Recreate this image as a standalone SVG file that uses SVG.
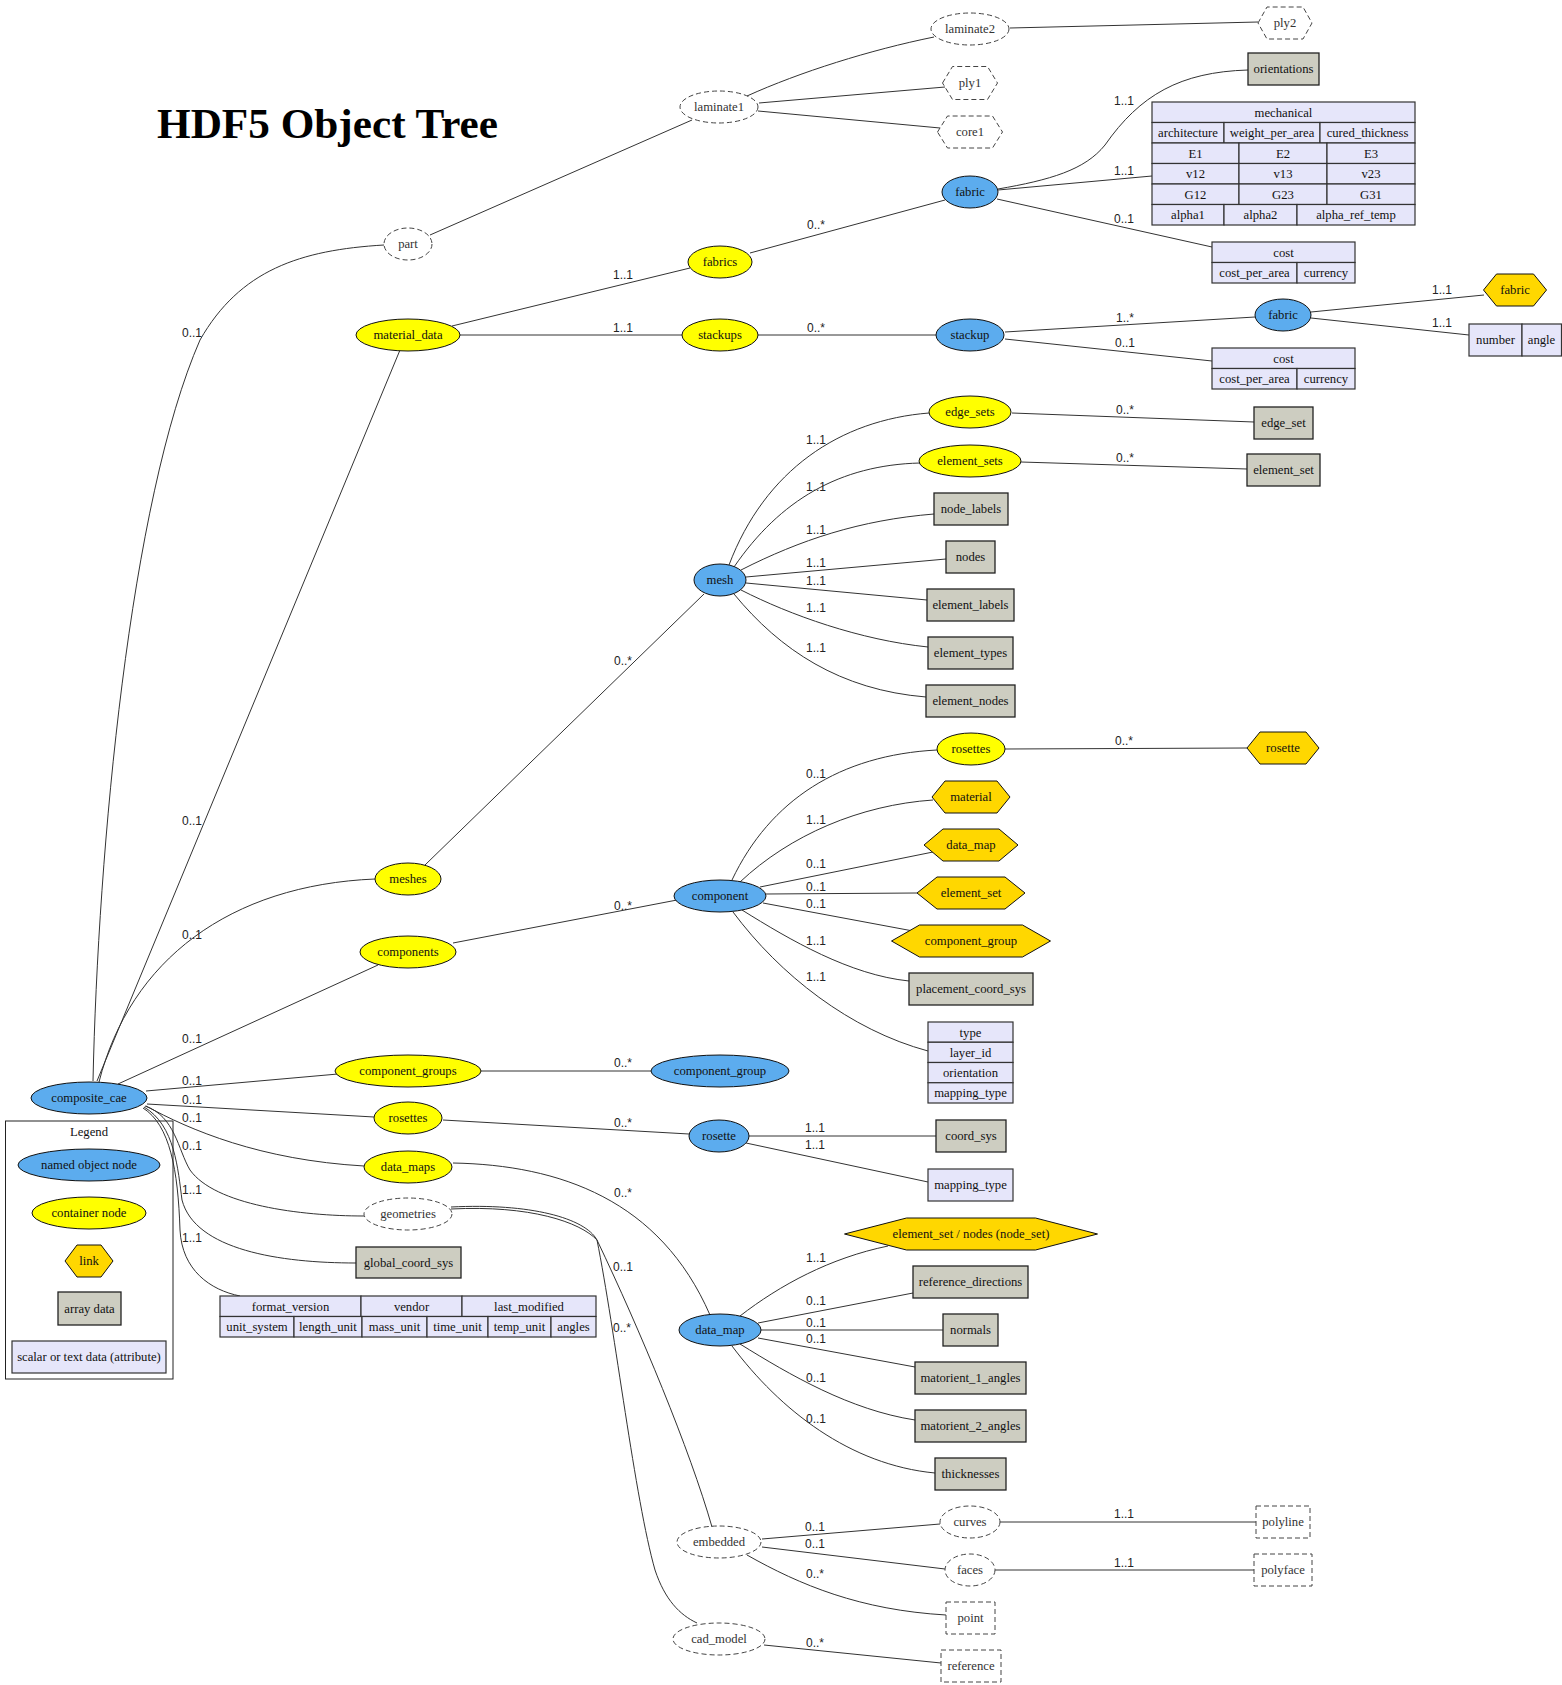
<svg xmlns="http://www.w3.org/2000/svg" width="1562" height="1685" viewBox="0 0 1562 1685">
<style>
  .obj { fill: #5CACEE; stroke: #111; stroke-width: 1; }
  .cont { fill: #FFFF00; stroke: #111; stroke-width: 1; }
  .link { fill: #FFD700; stroke: #111; stroke-width: 1; }
  .arr { fill: #CDCDC1; stroke: #222; stroke-width: 1.3; }
  .attr { fill: #E6E6FA; stroke: #333; stroke-width: 1.2; }
  .dash { fill: none; stroke: #444; stroke-width: 1; stroke-dasharray: 5,3; }
  .frame { fill: none; stroke: #222; stroke-width: 1; }
  text { font-family: "Liberation Serif", "Times New Roman", serif; font-size: 12.7px; text-anchor: middle; fill: #111; }
  text.g { fill: #333; }
  text.e { font-family: "Liberation Sans", Arial, sans-serif; font-size: 12px; fill: #222; }
  text.title { font-family: "Liberation Serif", serif; font-size: 43px; font-weight: bold; text-anchor: start; fill: #000; }
  #edges path { fill: none; stroke: #333; stroke-width: 1; }
</style>

<text class="title" x="157" y="138" textLength="341" lengthAdjust="spacingAndGlyphs">HDF5 Object Tree</text>

<!-- connectors -->
<g id="edges">
  <!-- composite_cae -->
  <path d="M93,1081 C98,850 130,500 200,340 C240,270 300,250 384,245"/>
  <path d="M97,1081 L400,350"/>
  <path d="M99,1082 C130,960 230,885 375,879"/>
  <path d="M118,1084 L378,965"/>
  <path d="M146,1091 L338,1074"/>
  <path d="M147,1104 L374,1117"/>
  <path d="M146,1106 C190,1130 260,1160 364,1166"/>
  <path d="M145,1106 C175,1116 178,1150 190,1170 C215,1205 300,1216 364,1216"/>
  <path d="M144,1107 C175,1125 178,1170 182,1200 C195,1250 280,1263 356,1263"/>
  <path d="M143,1108 C170,1125 178,1170 180,1230 C182,1270 210,1290 240,1296"/>
  <!-- part / laminates -->
  <path d="M430,235 L692,120"/>
  <path d="M747,96 C800,72 870,50 934,37"/>
  <path d="M759,103 L945,87"/>
  <path d="M758,111 L940,128"/>
  <path d="M1010,28 L1258,22"/>
  <!-- material_data -->
  <path d="M452,326 L690,268"/>
  <path d="M460,335 L682,335"/>
  <path d="M750,253 L945,200"/>
  <path d="M758,335 L936,335"/>
  <path d="M998,189 C1050,180 1085,170 1105,145 C1140,95 1180,72 1248,70"/>
  <path d="M998,190 L1152,176"/>
  <path d="M997,199 L1212,247"/>
  <path d="M1005,332 L1255,317"/>
  <path d="M1005,339 L1212,361"/>
  <path d="M1311,312 L1484,295"/>
  <path d="M1311,318 L1469,335"/>
  <!-- meshes -->
  <path d="M425,865 L704,594"/>
  <path d="M729,565 C765,470 840,420 929,413"/>
  <path d="M734,567 C780,500 840,465 920,463"/>
  <path d="M741,570 C800,540 860,520 934,514"/>
  <path d="M746,577 L946,559"/>
  <path d="M746,583 L927,600"/>
  <path d="M741,590 C790,615 860,640 928,647"/>
  <path d="M734,594 C780,650 840,690 926,697"/>
  <path d="M1012,413 L1254,422"/>
  <path d="M1021,462 L1247,469"/>
  <!-- components -->
  <path d="M453,943 L677,900"/>
  <path d="M732,880 C770,800 840,755 937,750"/>
  <path d="M740,882 C790,835 860,805 933,800"/>
  <path d="M760,887 L933,852"/>
  <path d="M766,894 L917,893"/>
  <path d="M763,903 L913,931"/>
  <path d="M742,910 C790,940 850,975 909,981"/>
  <path d="M733,912 C780,975 850,1030 928,1051"/>
  <path d="M1005,749 L1247,748"/>
  <!-- component_groups / rosettes -->
  <path d="M481,1071 L651,1071"/>
  <path d="M443,1120 L689,1134"/>
  <path d="M749,1136 L936,1136"/>
  <path d="M746,1143 L928,1182"/>
  <!-- data_maps -->
  <path d="M453,1163 C560,1165 660,1200 710,1315"/>
  <path d="M740,1316 C780,1285 830,1258 888,1246"/>
  <path d="M758,1323 L913,1293"/>
  <path d="M761,1330 L943,1330"/>
  <path d="M758,1338 L915,1367"/>
  <path d="M740,1344 C790,1375 850,1410 915,1420"/>
  <path d="M732,1346 C780,1410 850,1465 935,1473"/>
  <!-- geometries -->
  <path d="M451,1209 C530,1205 580,1222 597,1240 C640,1330 690,1450 712,1527"/>
  <path d="M451,1207 C530,1203 585,1218 597,1240 C615,1330 635,1500 655,1570 C665,1600 680,1615 697,1623"/>
  <path d="M762,1539 L940,1524"/>
  <path d="M762,1547 L945,1569"/>
  <path d="M747,1555 C800,1585 860,1610 946,1615"/>
  <path d="M764,1645 L941,1663"/>
  <path d="M1000,1522 L1256,1522"/>
  <path d="M995,1570 L1254,1570"/>

  <!-- multiplicities -->
  <text class="e" x="192" y="337">0..1</text>
  <text class="e" x="192" y="825">0..1</text>
  <text class="e" x="192" y="939">0..1</text>
  <text class="e" x="192" y="1043">0..1</text>
  <text class="e" x="192" y="1085">0..1</text>
  <text class="e" x="192" y="1104">0..1</text>
  <text class="e" x="192" y="1122">0..1</text>
  <text class="e" x="192" y="1150">0..1</text>
  <text class="e" x="192" y="1194">1..1</text>
  <text class="e" x="192" y="1242">1..1</text>

  <text class="e" x="623" y="279">1..1</text>
  <text class="e" x="623" y="332">1..1</text>
  <text class="e" x="816" y="229">0..*</text>
  <text class="e" x="816" y="332">0..*</text>
  <text class="e" x="1124" y="105">1..1</text>
  <text class="e" x="1124" y="175">1..1</text>
  <text class="e" x="1124" y="223">0..1</text>
  <text class="e" x="1125" y="322">1..*</text>
  <text class="e" x="1125" y="347">0..1</text>
  <text class="e" x="1442" y="294">1..1</text>
  <text class="e" x="1442" y="327">1..1</text>

  <text class="e" x="623" y="665">0..*</text>
  <text class="e" x="816" y="444">1..1</text>
  <text class="e" x="816" y="491">1..1</text>
  <text class="e" x="816" y="534">1..1</text>
  <text class="e" x="816" y="567">1..1</text>
  <text class="e" x="816" y="585">1..1</text>
  <text class="e" x="816" y="612">1..1</text>
  <text class="e" x="816" y="652">1..1</text>
  <text class="e" x="1125" y="414">0..*</text>
  <text class="e" x="1125" y="462">0..*</text>

  <text class="e" x="623" y="910">0..*</text>
  <text class="e" x="816" y="778">0..1</text>
  <text class="e" x="816" y="824">1..1</text>
  <text class="e" x="816" y="868">0..1</text>
  <text class="e" x="816" y="891">0..1</text>
  <text class="e" x="816" y="908">0..1</text>
  <text class="e" x="816" y="945">1..1</text>
  <text class="e" x="816" y="981">1..1</text>
  <text class="e" x="1124" y="745">0..*</text>

  <text class="e" x="623" y="1067">0..*</text>
  <text class="e" x="623" y="1127">0..*</text>
  <text class="e" x="815" y="1132">1..1</text>
  <text class="e" x="815" y="1149">1..1</text>
  <text class="e" x="623" y="1197">0..*</text>

  <text class="e" x="816" y="1262">1..1</text>
  <text class="e" x="816" y="1305">0..1</text>
  <text class="e" x="816" y="1327">0..1</text>
  <text class="e" x="816" y="1343">0..1</text>
  <text class="e" x="816" y="1382">0..1</text>
  <text class="e" x="816" y="1423">0..1</text>

  <text class="e" x="623" y="1271">0..1</text>
  <text class="e" x="622" y="1332">0..*</text>
  <text class="e" x="815" y="1531">0..1</text>
  <text class="e" x="815" y="1548">0..1</text>
  <text class="e" x="815" y="1578">0..*</text>
  <text class="e" x="815" y="1647">0..*</text>
  <text class="e" x="1124" y="1518">1..1</text>
  <text class="e" x="1124" y="1567">1..1</text>
</g>

<!-- root -->
<g id="composite_cae"><ellipse class="obj" cx="89" cy="1098" rx="58" ry="16"/><text x="89" y="1102">composite_cae</text></g>

<!-- part branch -->
<g id="part"><ellipse class="dash" cx="408" cy="244" rx="24" ry="16"/><text class="g" x="408" y="248">part</text></g>
<g id="laminate1"><ellipse class="dash" cx="719" cy="107" rx="39" ry="16"/><text class="g" x="719" y="111">laminate1</text></g>
<g id="laminate2"><ellipse class="dash" cx="970" cy="29" rx="39" ry="16"/><text class="g" x="970" y="33">laminate2</text></g>
<g id="ply1"><polygon class="dash" points="942.5,83 952.5,66.5 987.5,66.5 997.5,83 987.5,99.5 952.5,99.5"/><text class="g" x="970" y="87">ply1</text></g>
<g id="core1"><polygon class="dash" points="937.5,132 947.5,116 992.5,116 1002.5,132 992.5,148 947.5,148"/><text class="g" x="970" y="136">core1</text></g>
<g id="ply2"><polygon class="dash" points="1258,23 1267,7 1303,7 1312,23 1303,39 1267,39"/><text class="g" x="1285" y="27">ply2</text></g>

<!-- material data branch -->
<g id="material_data"><ellipse class="cont" cx="408" cy="335" rx="52" ry="16"/><text x="408" y="339">material_data</text></g>
<g id="fabrics"><ellipse class="cont" cx="720" cy="262" rx="32" ry="16"/><text x="720" y="266">fabrics</text></g>
<g id="stackups"><ellipse class="cont" cx="720" cy="335" rx="38" ry="16"/><text x="720" y="339">stackups</text></g>
<g id="fabric"><ellipse class="obj" cx="970" cy="192" rx="28" ry="16"/><text x="970" y="196">fabric</text></g>
<g id="stackup"><ellipse class="obj" cx="970" cy="335" rx="34" ry="16"/><text x="970" y="339">stackup</text></g>
<g id="orientations"><rect class="arr" x="1248" y="53" width="71" height="32"/><text x="1283.5" y="73">orientations</text></g>
<g id="mechanical">
  <rect class="attr" x="1152" y="102" width="263" height="20.5"/>
  <rect class="attr" x="1152" y="122.5" width="72" height="20.5"/>
  <rect class="attr" x="1224" y="122.5" width="96" height="20.5"/>
  <rect class="attr" x="1320" y="122.5" width="95" height="20.5"/>
  <rect class="attr" x="1152" y="143" width="87" height="20.5"/>
  <rect class="attr" x="1239" y="143" width="88" height="20.5"/>
  <rect class="attr" x="1327" y="143" width="88" height="20.5"/>
  <rect class="attr" x="1152" y="163.5" width="87" height="20.5"/>
  <rect class="attr" x="1239" y="163.5" width="88" height="20.5"/>
  <rect class="attr" x="1327" y="163.5" width="88" height="20.5"/>
  <rect class="attr" x="1152" y="184" width="87" height="20.5"/>
  <rect class="attr" x="1239" y="184" width="88" height="20.5"/>
  <rect class="attr" x="1327" y="184" width="88" height="20.5"/>
  <rect class="attr" x="1152" y="204.5" width="72" height="20.5"/>
  <rect class="attr" x="1224" y="204.5" width="73" height="20.5"/>
  <rect class="attr" x="1297" y="204.5" width="118" height="20.5"/>
  <text x="1283.5" y="116.5">mechanical</text>
  <text x="1188" y="137">architecture</text>
  <text x="1272" y="137">weight_per_area</text>
  <text x="1367.5" y="137">cured_thickness</text>
  <text x="1195.5" y="157.5">E1</text>
  <text x="1283" y="157.5">E2</text>
  <text x="1371" y="157.5">E3</text>
  <text x="1195.5" y="178">v12</text>
  <text x="1283" y="178">v13</text>
  <text x="1371" y="178">v23</text>
  <text x="1195.5" y="198.5">G12</text>
  <text x="1283" y="198.5">G23</text>
  <text x="1371" y="198.5">G31</text>
  <text x="1188" y="219">alpha1</text>
  <text x="1260.5" y="219">alpha2</text>
  <text x="1356" y="219">alpha_ref_temp</text>
</g>
<g id="fabric_cost">
  <rect class="attr" x="1212" y="242" width="143" height="20.5"/>
  <rect class="attr" x="1212" y="262.5" width="85" height="20.5"/>
  <rect class="attr" x="1297" y="262.5" width="58" height="20.5"/>
  <text x="1283.5" y="256.5">cost</text>
  <text x="1254.5" y="277">cost_per_area</text>
  <text x="1326" y="277">currency</text>
</g>
<g id="stackup_fabric"><ellipse class="obj" cx="1283" cy="315" rx="28" ry="16"/><text x="1283" y="319">fabric</text></g>
<g id="stackup_cost">
  <rect class="attr" x="1212" y="348" width="143" height="20.5"/>
  <rect class="attr" x="1212" y="368.5" width="85" height="20.5"/>
  <rect class="attr" x="1297" y="368.5" width="58" height="20.5"/>
  <text x="1283.5" y="362.5">cost</text>
  <text x="1254.5" y="383">cost_per_area</text>
  <text x="1326" y="383">currency</text>
</g>
<g id="fabric_link"><polygon class="link" points="1483.5,290 1496.5,274 1533.5,274 1546.5,290 1533.5,306 1496.5,306"/><text x="1515" y="294">fabric</text></g>
<g id="ply_layout">
  <rect class="attr" x="1469" y="324" width="53" height="32"/>
  <rect class="attr" x="1522" y="324" width="39.5" height="32"/>
  <text x="1495.5" y="344">number</text>
  <text x="1541.5" y="344">angle</text>
</g>

<!-- meshes branch -->
<g id="meshes"><ellipse class="cont" cx="408" cy="879" rx="33" ry="16"/><text x="408" y="883">meshes</text></g>
<g id="mesh"><ellipse class="obj" cx="720" cy="580" rx="26" ry="16"/><text x="720" y="584">mesh</text></g>
<g id="edge_sets"><ellipse class="cont" cx="970" cy="412" rx="41" ry="16"/><text x="970" y="416">edge_sets</text></g>
<g id="element_sets"><ellipse class="cont" cx="970" cy="461" rx="51" ry="16"/><text x="970" y="465">element_sets</text></g>
<g id="edge_set"><rect class="arr" x="1254" y="407" width="59" height="32"/><text x="1283.5" y="427">edge_set</text></g>
<g id="element_set_arr"><rect class="arr" x="1247" y="454" width="73" height="32"/><text x="1283.5" y="474">element_set</text></g>
<g id="node_labels"><rect class="arr" x="934" y="493" width="74" height="32"/><text x="971" y="513">node_labels</text></g>
<g id="nodes"><rect class="arr" x="946" y="541" width="49" height="32"/><text x="970.5" y="561">nodes</text></g>
<g id="element_labels"><rect class="arr" x="927" y="589" width="87" height="32"/><text x="970.5" y="609">element_labels</text></g>
<g id="element_types"><rect class="arr" x="928" y="637" width="85" height="32"/><text x="970.5" y="657">element_types</text></g>
<g id="element_nodes"><rect class="arr" x="926" y="685" width="89" height="32"/><text x="970.5" y="705">element_nodes</text></g>

<!-- components branch -->
<g id="components"><ellipse class="cont" cx="408" cy="952" rx="48" ry="16"/><text x="408" y="956">components</text></g>
<g id="component"><ellipse class="obj" cx="720" cy="896" rx="46" ry="16"/><text x="720" y="900">component</text></g>
<g id="component_rosettes"><ellipse class="cont" cx="971" cy="749" rx="34" ry="16"/><text x="971" y="753">rosettes</text></g>
<g id="rosette_link"><polygon class="link" points="1247,748 1260,732 1306,732 1319,748 1306,764 1260,764"/><text x="1283" y="752">rosette</text></g>
<g id="material_link"><polygon class="link" points="932,797 945,781 997,781 1010,797 997,813 945,813"/><text x="971" y="801">material</text></g>
<g id="data_map_link"><polygon class="link" points="924,845 943,829 999,829 1018,845 999,861 943,861"/><text x="971" y="849">data_map</text></g>
<g id="element_set_link"><polygon class="link" points="917,893 937,877 1005,877 1025,893 1005,909 937,909"/><text x="971" y="897">element_set</text></g>
<g id="component_group_link"><polygon class="link" points="891.5,941 919.5,925 1022.5,925 1050.5,941 1022.5,957 919.5,957"/><text x="971" y="945">component_group</text></g>
<g id="placement_coord_sys"><rect class="arr" x="909" y="973" width="124" height="32"/><text x="971" y="993">placement_coord_sys</text></g>
<g id="component_attrs">
  <rect class="attr" x="928" y="1022" width="85" height="20.25"/>
  <rect class="attr" x="928" y="1042.25" width="85" height="20.25"/>
  <rect class="attr" x="928" y="1062.5" width="85" height="20.25"/>
  <rect class="attr" x="928" y="1082.75" width="85" height="20.25"/>
  <text x="970.5" y="1036.5">type</text>
  <text x="970.5" y="1056.5">layer_id</text>
  <text x="970.5" y="1077">orientation</text>
  <text x="970.5" y="1097">mapping_type</text>
</g>

<!-- component groups, rosettes -->
<g id="component_groups"><ellipse class="cont" cx="408" cy="1071" rx="73" ry="16"/><text x="408" y="1075">component_groups</text></g>
<g id="component_group"><ellipse class="obj" cx="720" cy="1071" rx="69" ry="16"/><text x="720" y="1075">component_group</text></g>
<g id="rosettes"><ellipse class="cont" cx="408" cy="1118" rx="34" ry="16"/><text x="408" y="1122">rosettes</text></g>
<g id="rosette"><ellipse class="obj" cx="719" cy="1136" rx="30" ry="16"/><text x="719" y="1140">rosette</text></g>
<g id="coord_sys"><rect class="arr" x="936" y="1120" width="70" height="32"/><text x="971" y="1140">coord_sys</text></g>
<g id="rosette_mapping_type"><rect class="attr" x="928" y="1169" width="85" height="32"/><text x="970.5" y="1189">mapping_type</text></g>

<!-- data maps -->
<g id="data_maps"><ellipse class="cont" cx="408" cy="1167" rx="44" ry="16"/><text x="408" y="1171">data_maps</text></g>
<g id="data_map"><ellipse class="obj" cx="720" cy="1330" rx="41" ry="16"/><text x="720" y="1334">data_map</text></g>
<g id="node_set_link"><polygon class="link" points="844.5,1234 906.5,1218 1035.5,1218 1097.5,1234 1035.5,1250 906.5,1250"/><text x="971" y="1238">element_set / nodes (node_set)</text></g>
<g id="reference_directions"><rect class="arr" x="913" y="1266" width="115" height="32"/><text x="970.5" y="1286">reference_directions</text></g>
<g id="normals"><rect class="arr" x="943" y="1314" width="55" height="32"/><text x="970.5" y="1334">normals</text></g>
<g id="matorient_1_angles"><rect class="arr" x="915" y="1362" width="111" height="32"/><text x="970.5" y="1382">matorient_1_angles</text></g>
<g id="matorient_2_angles"><rect class="arr" x="915" y="1410" width="111" height="32"/><text x="970.5" y="1430">matorient_2_angles</text></g>
<g id="thicknesses"><rect class="arr" x="935" y="1458" width="71" height="32"/><text x="970.5" y="1478">thicknesses</text></g>

<!-- geometries -->
<g id="geometries"><ellipse class="dash" cx="408" cy="1214" rx="44" ry="16"/><text class="g" x="408" y="1218">geometries</text></g>
<g id="embedded"><ellipse class="dash" cx="719" cy="1542" rx="42" ry="16"/><text class="g" x="719" y="1546">embedded</text></g>
<g id="cad_model"><ellipse class="dash" cx="719" cy="1639" rx="46" ry="16"/><text class="g" x="719" y="1643">cad_model</text></g>
<g id="curves"><ellipse class="dash" cx="970" cy="1522" rx="30" ry="16"/><text class="g" x="970" y="1526">curves</text></g>
<g id="faces"><ellipse class="dash" cx="970" cy="1570" rx="25" ry="16"/><text class="g" x="970" y="1574">faces</text></g>
<g id="point"><rect class="dash" x="946" y="1602" width="49" height="32"/><text class="g" x="970.5" y="1622">point</text></g>
<g id="reference"><rect class="dash" x="941" y="1650" width="60" height="32"/><text class="g" x="971" y="1670">reference</text></g>
<g id="polyline"><rect class="dash" x="1256" y="1506" width="54" height="32"/><text class="g" x="1283" y="1526">polyline</text></g>
<g id="polyface"><rect class="dash" x="1254" y="1554" width="58" height="32"/><text class="g" x="1283" y="1574">polyface</text></g>

<!-- root attributes and arrays -->
<g id="global_coord_sys"><rect class="arr" x="356" y="1247" width="105" height="31"/><text x="408.5" y="1267">global_coord_sys</text></g>
<g id="root_attrs">
  <rect class="attr" x="220" y="1296" width="141" height="20.5"/>
  <rect class="attr" x="361" y="1296" width="101" height="20.5"/>
  <rect class="attr" x="462" y="1296" width="134" height="20.5"/>
  <rect class="attr" x="220" y="1316.5" width="74" height="20.5"/>
  <rect class="attr" x="294" y="1316.5" width="68" height="20.5"/>
  <rect class="attr" x="362" y="1316.5" width="65" height="20.5"/>
  <rect class="attr" x="427" y="1316.5" width="61" height="20.5"/>
  <rect class="attr" x="488" y="1316.5" width="63" height="20.5"/>
  <rect class="attr" x="551" y="1316.5" width="45" height="20.5"/>
  <text x="290.5" y="1310.5">format_version</text>
  <text x="411.5" y="1310.5">vendor</text>
  <text x="529" y="1310.5">last_modified</text>
  <text x="257" y="1331">unit_system</text>
  <text x="328" y="1331">length_unit</text>
  <text x="394.5" y="1331">mass_unit</text>
  <text x="457.5" y="1331">time_unit</text>
  <text x="519.5" y="1331">temp_unit</text>
  <text x="573.5" y="1331">angles</text>
</g>

<!-- legend -->
<g id="legend">
  <rect class="frame" x="5.5" y="1121" width="167.5" height="258"/>
  <text x="89" y="1136">Legend</text>
  <ellipse class="obj" cx="89" cy="1165" rx="71" ry="16"/><text x="89" y="1169">named object node</text>
  <ellipse class="cont" cx="89" cy="1213" rx="57" ry="16"/><text x="89" y="1217">container node</text>
  <polygon class="link" points="65,1261 77,1245 101,1245 113,1261 101,1277 77,1277"/><text x="89" y="1265">link</text>
  <rect class="arr" x="58" y="1292" width="63" height="33"/><text x="89.5" y="1313">array data</text>
  <rect class="attr" x="12" y="1341" width="154" height="32"/><text x="89" y="1361">scalar or text data (attribute)</text>
</g>
</svg>
